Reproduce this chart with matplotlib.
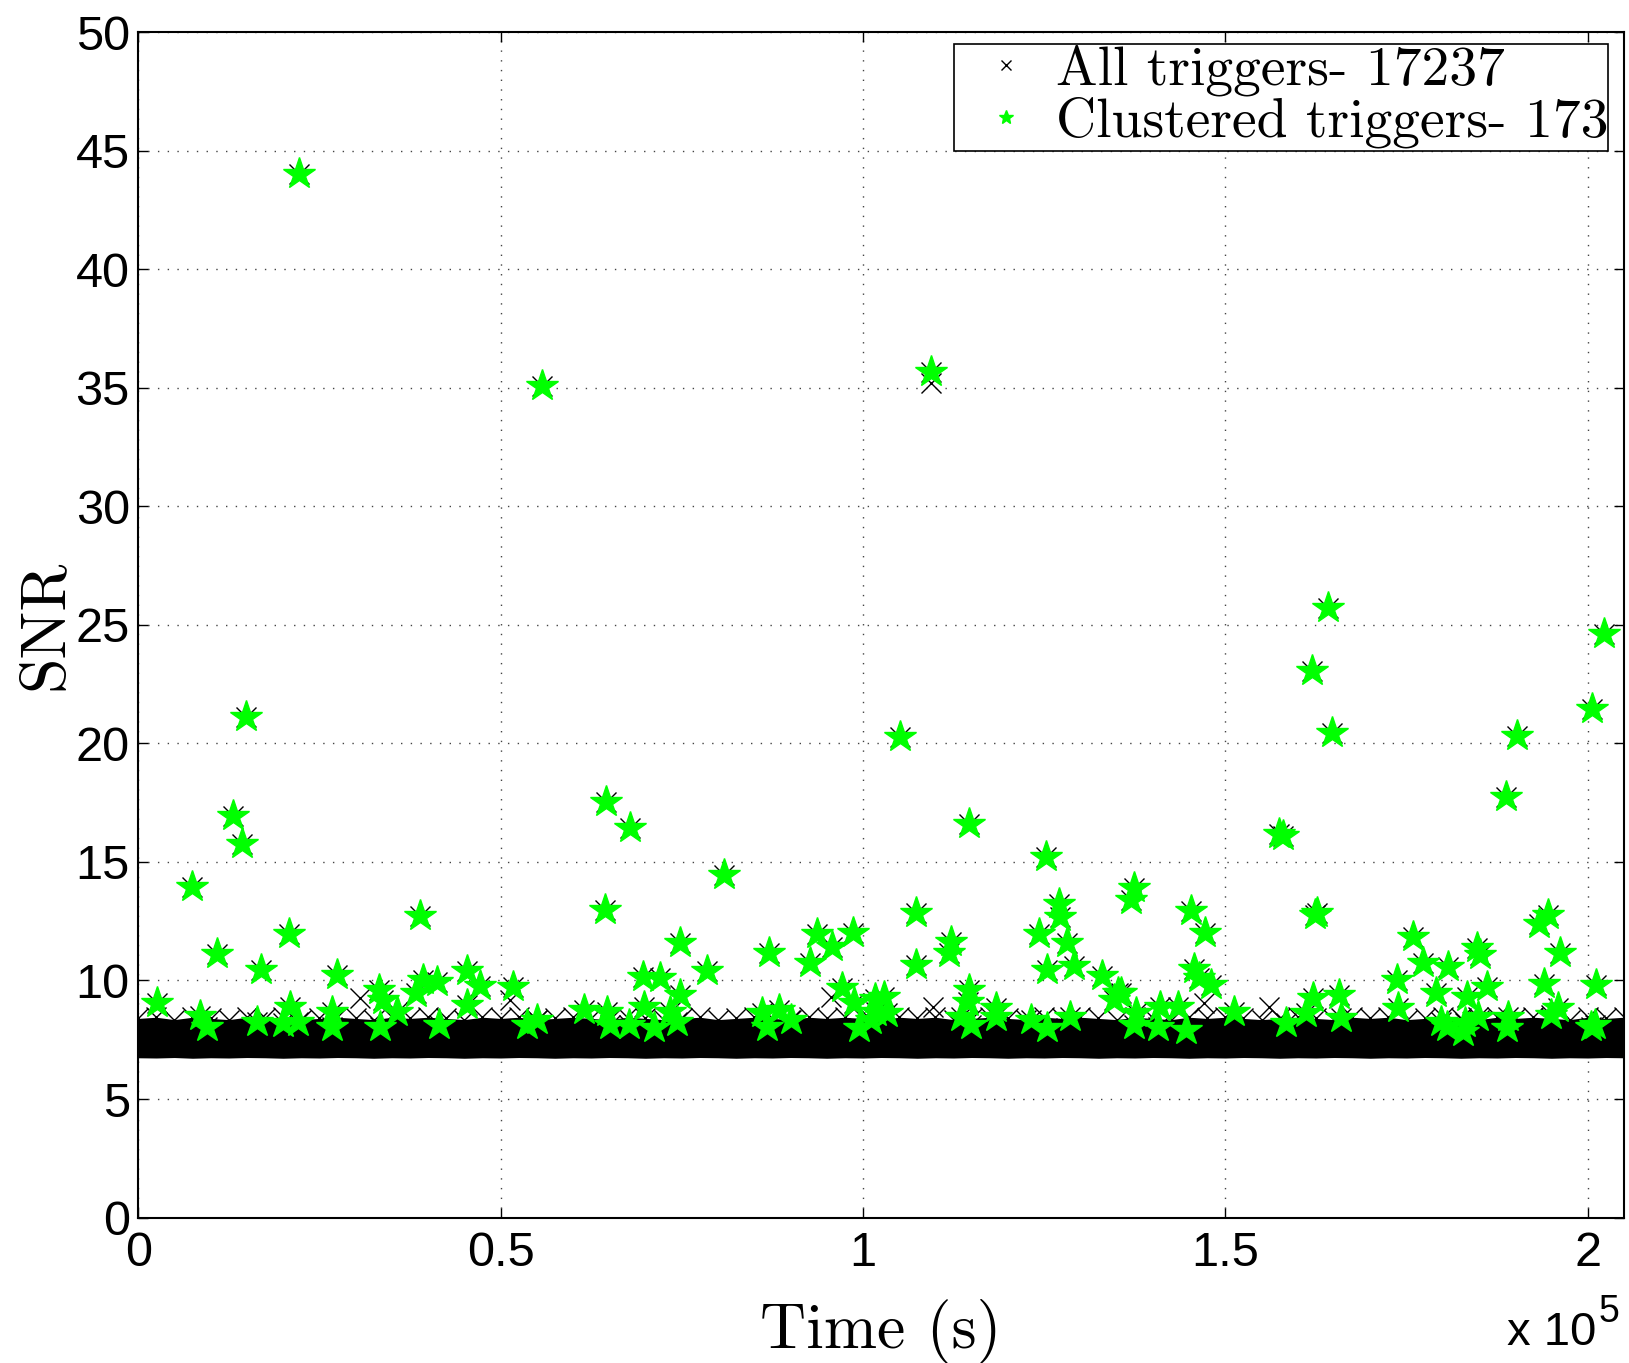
import matplotlib
matplotlib.use('Agg')
import matplotlib.pyplot as plt
from matplotlib.patches import Rectangle

# ---------------- data (time in units of 1e5 s) ----------------
star_t = [0.2224, 0.5567, 1.0933, 0.1492, 1.0516, 1.6198, 1.6413, 1.6471, 1.9025, 2.0057, 2.0230,
          0.1314, 0.1438, 0.0739, 0.3882, 0.2087, 0.1084, 0.1696, 0.2741, 0.4536, 0.4710, 0.3937,
          0.4122, 0.3836, 0.3330, 0.3385, 0.3570, 0.4536, 0.0255, 0.0853, 0.0954, 0.1636, 0.2096,
          0.2004, 0.2211, 0.2672, 0.2672, 0.3340, 0.4145,
          0.6450, 0.6782, 0.8090, 0.6437, 0.7482, 0.8707, 0.9370, 0.9862, 0.9568, 0.9268, 0.7851,
          0.6967, 0.7197, 0.5172, 0.7482, 0.9715, 0.6976, 0.6147, 0.6470, 0.5365, 0.5503, 0.6516,
          0.6768, 0.7114, 0.7344, 0.7437, 0.8610, 0.8840, 0.8680, 0.9002, 0.9876, 0.9945, 1.0175,
          1.0160,
          1.1469, 1.2523, 1.3734, 1.3692, 1.0728, 1.2707, 1.2720, 1.4526, 1.2431, 1.4723, 1.1220,
          1.2813, 1.1188, 1.0737, 1.2546, 1.2914, 1.4563, 1.4640, 1.4802, 1.3292, 1.3513, 1.3559,
          1.3467, 1.0290, 1.0337, 1.0110, 1.1464, 1.1446, 1.1349, 1.1488, 1.1833, 1.1833, 1.2316,
          1.2546, 1.2859, 1.3743, 1.3771, 1.4065, 1.4100, 1.4342, 1.4457, 1.5124,
          1.8866, 1.5745, 1.5800, 1.6238, 1.6271, 1.9452, 1.9327, 1.7592, 1.8466, 1.8512, 1.9612,
          1.7734, 1.8079, 1.7371, 1.7909, 1.8337, 1.8609, 1.9396, 2.0119, 1.7380, 1.6574, 1.6212,
          1.6114, 1.5838, 1.6597, 1.7978, 1.8060, 1.8278, 1.8312, 1.8493, 1.8899, 1.8889, 1.9497,
          1.9589, 2.0050, 2.0101]
star_snr = [44.00, 35.06, 35.67, 21.12, 20.25, 23.05, 25.72, 20.42, 20.33, 21.47, 24.63,
            16.94, 15.76, 13.96, 12.73, 11.95, 11.12, 10.44, 10.23, 10.41, 9.77, 10.02,
            9.95, 9.46, 9.60, 9.18, 8.69, 8.97, 9.04, 8.50, 8.05, 8.24, 8.90,
            8.20, 8.27, 8.68, 8.05, 8.05, 8.12,
            17.54, 16.42, 14.45, 12.97, 11.57, 11.17, 11.96, 11.99, 11.43, 10.72, 10.41,
            10.16, 10.09, 9.74, 9.39, 9.67, 8.90, 8.76, 8.69, 8.12, 8.34, 8.12,
            8.12, 7.98, 8.69, 8.27, 8.62, 8.76, 8.05, 8.33, 9.04, 7.98, 8.69,
            9.20,
            16.60, 15.22, 13.92, 13.40, 12.83, 13.23, 12.69, 12.94, 11.96, 11.99, 11.64,
            11.60, 11.15, 10.65, 10.44, 10.61, 10.50, 10.09, 9.81, 10.17, 9.46, 9.46,
            9.17, 9.32, 8.62, 8.34, 9.60, 9.10, 8.47, 8.12, 8.83, 8.47, 8.34,
            7.98, 8.47, 8.12, 8.62, 8.05, 8.90, 8.90, 7.91, 8.69,
            17.75, 16.18, 16.10, 12.76, 12.83, 12.77, 12.38, 11.85, 11.38, 11.08, 11.17,
            10.72, 10.58, 10.02, 9.46, 9.32, 9.71, 9.85, 9.81, 8.83, 9.39, 9.25,
            8.62, 8.20, 8.40, 8.27, 8.05, 7.84, 8.20, 8.47, 8.47, 7.98, 8.55,
            8.83, 8.05, 8.12]

# isolated unclustered triggers visible outside the dense band
outlier_t = [1.0933, 0.3063, 0.5135, 0.9554, 1.0972, 1.4710, 1.5607]
outlier_snr = [35.20, 9.25, 9.18, 9.32, 8.89, 9.03, 8.89]

# envelope of the dense band of triggers: top-edge trigger SNRs and the lower edge
band_t = [0.000, 0.025, 0.050, 0.075, 0.100, 0.125, 0.150, 0.175, 0.200, 0.225, 0.250, 0.275,
          0.300, 0.325, 0.350, 0.375, 0.400, 0.425, 0.450, 0.475, 0.500, 0.525, 0.550, 0.575,
          0.600, 0.625, 0.650, 0.675, 0.700, 0.725, 0.750, 0.775, 0.800, 0.825, 0.850, 0.875,
          0.900, 0.925, 0.950, 0.975, 1.000, 1.025, 1.050, 1.075, 1.100, 1.125, 1.150, 1.175,
          1.200, 1.225, 1.250, 1.275, 1.300, 1.325, 1.350, 1.375, 1.400, 1.425, 1.450, 1.475,
          1.500, 1.525, 1.550, 1.575, 1.600, 1.625, 1.650, 1.675, 1.700, 1.725, 1.750, 1.775,
          1.800, 1.825, 1.850, 1.875, 1.900, 1.925, 1.950, 1.975, 2.000, 2.025, 2.050]
band_top = [8.40, 8.45, 8.35, 8.45, 8.40, 8.35, 8.45, 8.40, 8.45, 8.35, 8.40, 8.45,
            8.40, 8.35, 8.45, 8.40, 8.45, 8.40, 8.35, 8.45, 8.40, 8.45, 8.35, 8.40,
            8.45, 8.40, 8.35, 8.45, 8.40, 8.35, 8.40, 8.45, 8.35, 8.40, 8.45, 8.40,
            8.35, 8.45, 8.40, 8.45, 8.40, 8.35, 8.45, 8.40, 8.45, 8.35, 8.40, 8.45,
            8.40, 8.35, 8.45, 8.40, 8.45, 8.40, 8.35, 8.45, 8.40, 8.35, 8.45, 8.40,
            8.45, 8.40, 8.35, 8.40, 8.45, 8.40, 8.35, 8.45, 8.40, 8.45, 8.35, 8.40,
            8.45, 8.40, 8.35, 8.45, 8.40, 8.45, 8.40, 8.35, 8.45, 8.40, 8.45]
band_bottom = [6.74, 6.73, 6.75, 6.72, 6.74, 6.73, 6.75, 6.74, 6.72, 6.74, 6.73, 6.75,
               6.74, 6.72, 6.74, 6.73, 6.75, 6.74, 6.72, 6.74, 6.73, 6.75, 6.74, 6.72,
               6.74, 6.73, 6.75, 6.74, 6.72, 6.74, 6.73, 6.75, 6.74, 6.72, 6.74, 6.73,
               6.75, 6.74, 6.72, 6.74, 6.73, 6.75, 6.74, 6.72, 6.74, 6.73, 6.75, 6.74,
               6.72, 6.74, 6.73, 6.75, 6.74, 6.72, 6.74, 6.73, 6.75, 6.74, 6.72, 6.74,
               6.73, 6.75, 6.74, 6.72, 6.74, 6.73, 6.75, 6.74, 6.72, 6.74, 6.73, 6.75,
               6.74, 6.72, 6.74, 6.73, 6.75, 6.74, 6.72, 6.74, 6.73, 6.75, 6.74]

xticks = [0, 0.5, 1, 1.5, 2]
xtick_labels = ['0', '0.5', '1', '1.5', '2']
yticks = [0, 5, 10, 15, 20, 25, 30, 35, 40, 45, 50]
ytick_labels = ['0', '5', '10', '15', '20', '25', '30', '35', '40', '45', '50']

label_all = 'All triggers- 17237'
label_clu = 'Clustered triggers- 173'

# ---------------- figure ----------------
fig = plt.figure(figsize=(16.29, 13.63), dpi=100)
ax = fig.add_axes([0.0848, 0.1067, 0.9121, 0.8697])

green = '#00ff00'
all_t = star_t + outlier_t + band_t
all_snr = star_snr + outlier_snr + band_top

ax.fill_between(band_t, band_bottom, band_top, color='k', lw=0, zorder=2)
ax.plot(all_t, all_snr, ls='none', marker='x', color='k', ms=14.5, mew=1.0,
        label=label_all, zorder=3)
ax.plot(star_t, star_snr, ls='none', marker='*', color=green, mec=green, ms=24,
        label=label_clu, zorder=4)

ax.set_xlim(0, 2.05)
ax.set_ylim(0, 50)
ax.set_xticks(xticks)
ax.set_xticklabels(xtick_labels, fontfamily='Liberation Sans', fontsize=35)
ax.set_yticks(yticks)
ax.set_yticklabels(ytick_labels, fontfamily='Liberation Sans', fontsize=35)
ax.tick_params(direction='in', length=7, width=1, top=True, right=True)
ax.tick_params(axis='x', pad=10)
ax.tick_params(axis='y', pad=6)

ax.grid(True, color='#444444', linestyle=(0, (1, 6)), linewidth=1.0)
ax.set_axisbelow(True)
for s in ax.spines.values():
    s.set_linewidth(1.5)

ax.set_xlabel('Time (s)', fontfamily='cmr10', fontsize=46, labelpad=16)
ax.set_ylabel('SNR', fontfamily='cmr10', fontsize=46, labelpad=1)

# legend frame (text overflows the box on the right as in the original)
ax.add_patch(Rectangle((0.5489, 0.9001), 0.4403, 0.0903, transform=ax.transAxes,
                       facecolor='white', edgecolor='k', linewidth=1.2, zorder=5,
                       clip_on=False))
leg = ax.legend(loc='upper left', bbox_to_anchor=(0.5656, 0.9895),
                prop={'family': 'cmr10', 'size': 40},
                markerscale=0.45, labelspacing=0.0, borderpad=0.0, handletextpad=0.39,
                handlelength=1.0, borderaxespad=0.0, frameon=False)
leg.set_zorder(6)

fig.text(0.925, 0.0132, 'x 10', fontfamily='Liberation Sans', fontsize=34, va='baseline')
fig.text(0.981, 0.0303, '5', fontfamily='Liberation Sans', fontsize=27, va='baseline')

fig.savefig('out.png', dpi=100)
